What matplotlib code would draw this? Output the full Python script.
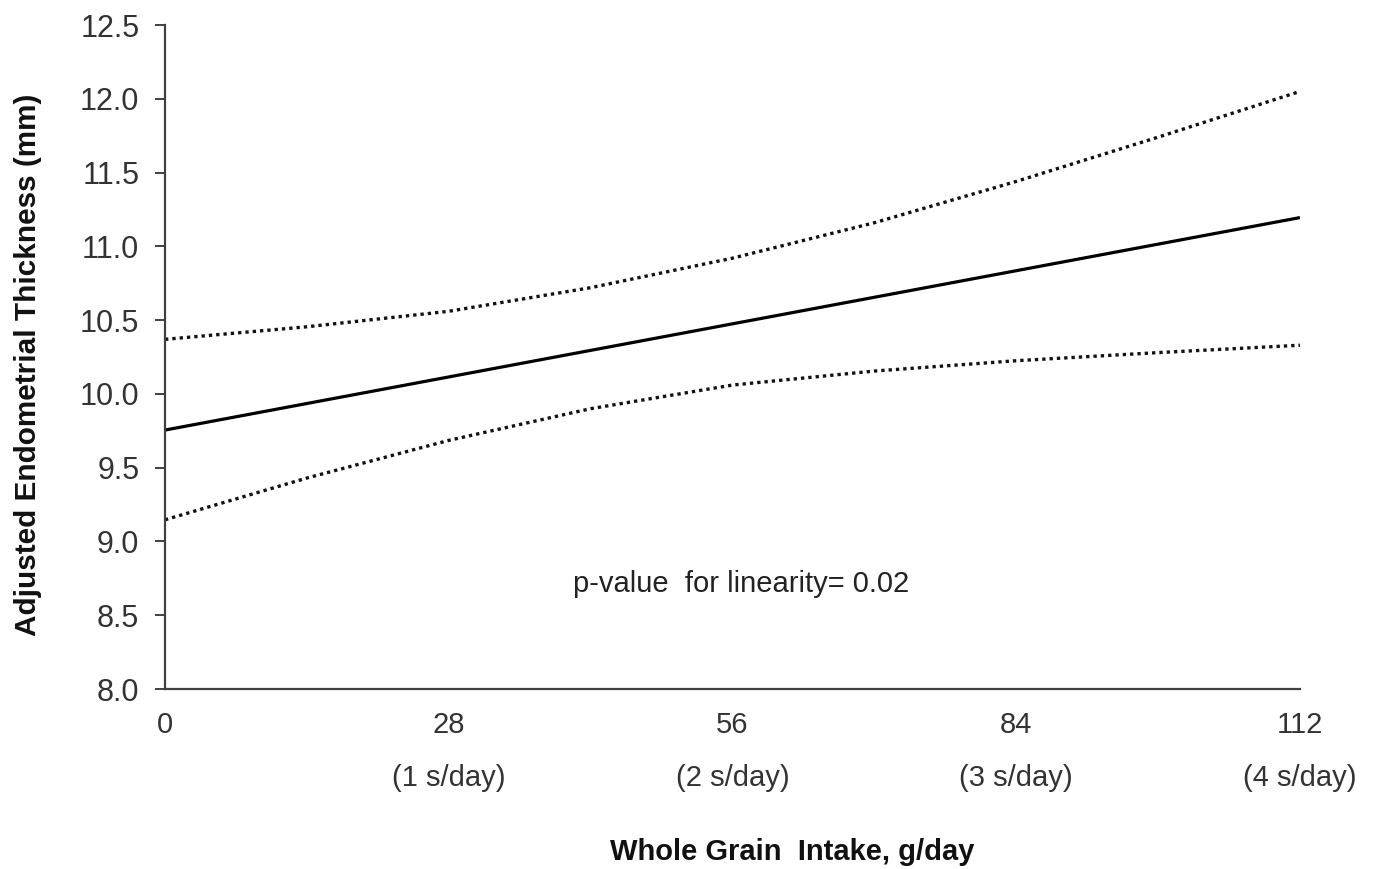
import matplotlib
matplotlib.use("Agg")
import matplotlib.pyplot as plt

plt.rcParams['font.family'] = ['Liberation Sans', 'DejaVu Sans']

# Data
intake = [0, 14, 28, 42, 56, 70, 84, 98, 112]
estimate = [9.755, 9.935, 10.115, 10.295, 10.475, 10.655, 10.835, 11.015, 11.195]
upper_ci = [10.37, 10.455, 10.56, 10.72, 10.92, 11.16, 11.44, 11.74, 12.05]
lower_ci = [9.147, 9.43, 9.685, 9.90, 10.06, 10.155, 10.225, 10.28, 10.33]

xticks = [0, 28, 56, 84, 112]
xtick_labels = ["0", "28\n(1 s/day)", "56\n(2 s/day)", "84\n(3 s/day)", "112\n(4 s/day)"]
yticks = [8.0, 8.5, 9.0, 9.5, 10.0, 10.5, 11.0, 11.5, 12.0, 12.5]
ytick_labels = [f"{v:.1f}" for v in yticks]

fig = plt.figure(figsize=(13.74, 8.69), dpi=100)
ax = fig.add_axes([0.1201, 0.2071, 0.826, 0.7641])

ax.plot(intake, estimate, color='black', lw=2.3, solid_capstyle='butt')
ax.plot(intake, upper_ci, color='#111111', lw=2.4, linestyle=(0, (1, 1.2)))
ax.plot(intake, lower_ci, color='#111111', lw=2.4, linestyle=(0, (1, 1.2)))

ax.set_xlim(0, 112)
ax.set_ylim(8.0, 12.5)
ax.set_yticks(yticks)
ax.set_yticklabels(ytick_labels)
ax.set_xticks(xticks)
ax.set_xticklabels(xtick_labels, linespacing=2.13)

for s in ['top', 'right']:
    ax.spines[s].set_visible(False)
for s in ['left', 'bottom']:
    ax.spines[s].set_color('#404040')
    ax.spines[s].set_linewidth(1.6)

ax.tick_params(axis='y', direction='out', length=7.5, width=1.4, color='#404040',
               pad=11, labelsize=22, labelcolor='#333333')
ax.tick_params(axis='x', length=0, pad=16, labelsize=21, labelcolor='#333333')

ax.text(40.26, 8.71, "p-value  for linearity= 0.02", fontsize=21, color='#222222',
        ha='left', va='center')

fig.text(28 / 1374, 0.58, "Adjusted Endometrial Thickness (mm)", rotation=90,
         fontsize=21.4, fontweight='bold', ha='center', va='center', color='#111111')
fig.text(792 / 1374, 1 - 852 / 869, "Whole Grain  Intake, g/day", fontsize=21,
         fontweight='bold', ha='center', va='center', color='#111111')

fig.savefig("out.png", dpi=100)
